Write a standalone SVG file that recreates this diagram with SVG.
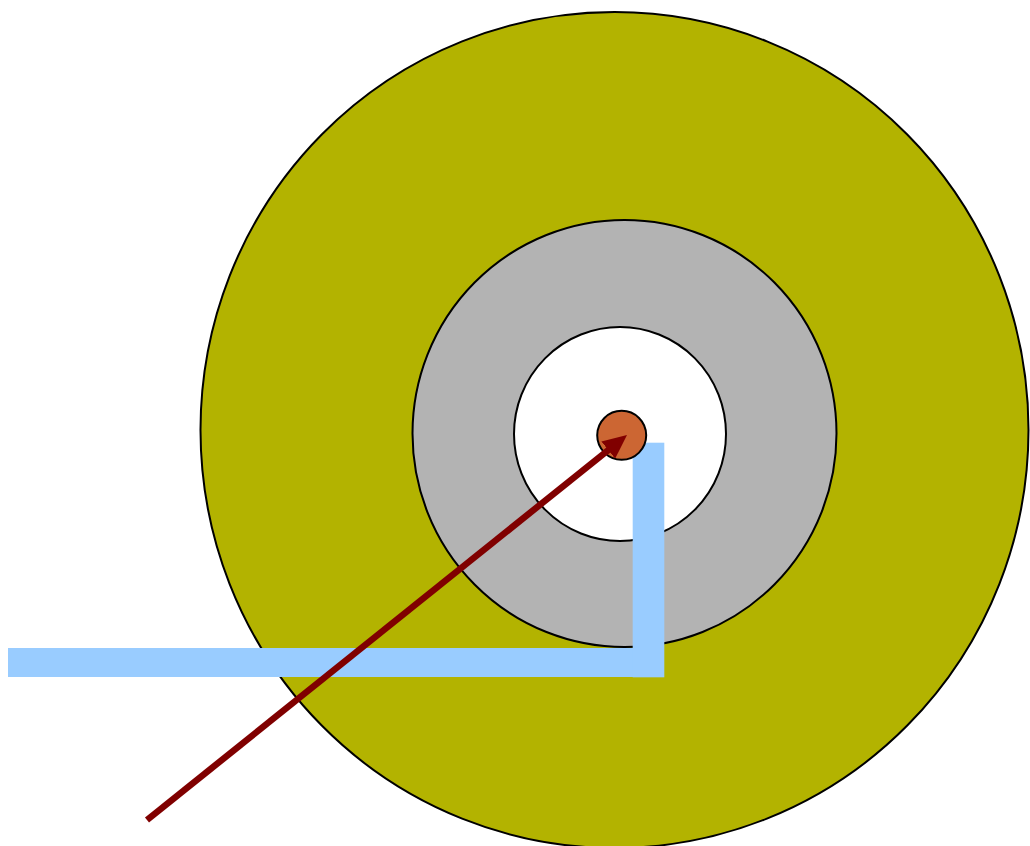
<svg xmlns="http://www.w3.org/2000/svg" width="1030" height="846" viewBox="0 0 1030 846">
  <defs>
    <style>
      .ring { stroke: #000000; stroke-width: 2; }
      .bar { fill: #99ccff; stroke: none; }
      .arrow { stroke: #800000; stroke-width: 6.5; fill: none; }
    </style>
    <marker id="ah" viewBox="0 0 24 22" refX="3" refY="11" markerWidth="24" markerHeight="22" orient="auto" markerUnits="userSpaceOnUse">
      <path d="M0,0 L24,11 L0,22 Z" fill="#800000"/>
    </marker>
  </defs>
  <rect width="1030" height="846" fill="#ffffff"/>
  <g id="outer">
    <ellipse class="ring" cx="614.5" cy="430" rx="414" ry="418" fill="#b3b300"/>
  </g>
  <g id="middle">
    <ellipse class="ring" cx="624.5" cy="433.5" rx="212" ry="213.5" fill="#b3b3b3"/>
  </g>
  <g id="inner">
    <ellipse class="ring" cx="620" cy="434" rx="106" ry="107" fill="#ffffff"/>
  </g>
  <g id="bars">
    <rect class="bar" x="8" y="648" width="625" height="29"/>
    <rect class="bar" x="632.7" y="442.7" width="31.6" height="234.6"/>
  </g>
  <g id="core">
    <circle class="ring" cx="621.7" cy="435.3" r="24.5" fill="#cc6633"/>
  </g>
  <g id="connectors">
    <line class="arrow" x1="147" y1="820" x2="610.6" y2="448.2" marker-end="url(#ah)"/>
  </g>
</svg>
